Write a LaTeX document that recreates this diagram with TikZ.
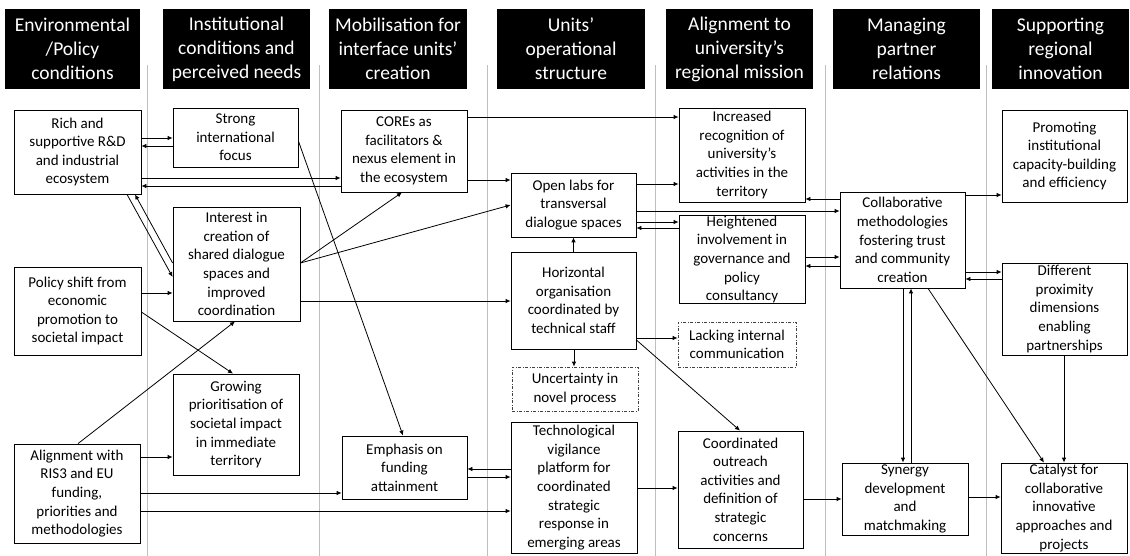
\documentclass[tikz,border=0pt]{standalone}
\usepackage{fontspec}
\setmainfont{Carlito}
\usetikzlibrary{arrows.meta}
\begin{document}
\begin{tikzpicture}[x=1pt,y=-1pt,
  head/.style={fill=black, text=white, align=center, inner sep=0pt,
    minimum height=80pt, font=\fontsize{19.5}{24}\selectfont},
  box/.style={draw, line width=0.8pt, align=center, inner sep=0pt,
    font=\fontsize{15}{18.6}\selectfont},
  weak/.style={box, draw=black!75, line width=0.7pt,
    dash pattern=on 3pt off 1.5pt on 1pt off 1.5pt},
  sep/.style={draw=black!25, line width=0.8pt},
  arr/.style={draw, line width=0.8pt, -{Latex[length=5pt,width=4.5pt]}}]

\useasboundingbox (0,0) rectangle (1130,556);

% column separators
\foreach \sx in {147,319,487,655,825,986}
  \draw[sep] (\sx,65) -- (\sx,556);

% column headings
\node[head, minimum width=135pt] (h1) at (72.5,49) {Environmental\\/Policy\\conditions};
\node[head, minimum width=147pt] (h2) at (236.5,49) {Institutional\\conditions and\\perceived needs};
\node[head, minimum width=138pt] (h3) at (398,49) {Mobilisation for\\interface units’\\creation};
\node[head, minimum width=148pt] (h4) at (571,49) {Units’\\operational\\structure};
\node[head, minimum width=147pt] (h5) at (739.5,49) {Alignment to\\university’s\\regional mission};
\node[head, minimum width=147pt] (h6) at (906.5,49) {Managing\\partner\\relations};
\node[head, minimum width=137pt] (h7) at (1060.5,49) {Supporting\\regional\\innovation};

% column 1
\node[box, minimum width=127pt, minimum height=84pt] (rich) at (77.5,152) {Rich and\\supportive R\&D\\and industrial\\ecosystem};
\node[box, minimum width=127pt, minimum height=88pt] (policy) at (77.5,311) {Policy shift from\\economic\\promotion to\\societal impact};
\node[box, minimum width=126pt, minimum height=99pt] (alignment) at (77,493.5) {Alignment with\\RIS3 and EU\\funding,\\priorities and\\methodologies};

% column 2
\node[box, minimum width=125pt, minimum height=59pt] (strong) at (235.5,137.5) {Strong\\international\\focus};
\node[box, minimum width=127pt, minimum height=114pt] (interest) at (236.5,264) {Interest in\\creation of\\shared dialogue\\spaces and\\improved\\coordination};
\node[box, minimum width=126pt, minimum height=101pt] (growing) at (236,424.5) {Growing\\prioritisation of\\societal impact\\in immediate\\territory};

% column 3
\node[box, minimum width=126pt, minimum height=82pt] (cores) at (404,151) {COREs as\\facilitators \&\\nexus element in\\the ecosystem};
\node[box, minimum width=125pt, minimum height=63pt] (emphasis) at (404.5,467.5) {Emphasis on\\funding\\attainment};

% column 4
\node[box, minimum width=125pt, minimum height=64pt] (open) at (573.5,205) {Open labs for\\transversal\\dialogue spaces};
\node[box, minimum width=125pt, minimum height=97pt] (horizontal) at (573.5,300.5) {Horizontal\\organisation\\coordinated by\\technical staff};
\node[weak, minimum width=126pt, minimum height=44pt] (uncertainty) at (575,389) {Uncertainty in\\novel process};
\node[box, minimum width=126pt, minimum height=131pt] (tech) at (574,487.5) {Technological\\vigilance\\platform for\\coordinated\\strategic\\response in\\emerging areas};

% column 5
\node[box, minimum width=126pt, minimum height=94pt] (increased) at (742,155) {Increased\\recognition of\\university’s\\activities in the\\territory};
\node[box, minimum width=126pt, minimum height=83pt] (heightened) at (742,259.5) {Heightened\\involvement in\\governance and\\policy\\consultancy};
\node[weak, minimum width=118pt, minimum height=45pt] (lacking) at (737,344.5) {Lacking internal\\communication};
\node[box, minimum width=125pt, minimum height=117pt] (coordinated) at (740.5,489.5) {Coordinated\\outreach\\activities and\\definition of\\strategic\\concerns};

% column 6
\node[box, minimum width=125pt, minimum height=96pt] (collab) at (902.5,240) {Collaborative\\methodologies\\fostering trust\\and community\\creation};
\node[box, minimum width=126pt, minimum height=72pt] (synergy) at (905,499) {Synergy\\development\\and\\matchmaking};

% column 7
\node[box, minimum width=125pt, minimum height=92pt] (promoting) at (1064.5,156) {Promoting\\institutional\\capacity-building\\and efficiency};
\node[box, minimum width=125pt, minimum height=92pt] (different) at (1064.5,309) {Different\\proximity\\dimensions\\enabling\\partnerships};
\node[box, minimum width=126pt, minimum height=90pt] (catalyst) at (1064,508) {Catalyst for\\collaborative\\innovative\\approaches and\\projects};

% connectors from the first column
\draw[arr] (rich.east |- 0,138) -- (strong.west |- 0,138);
\draw[arr] (strong.west |- 0,146) -- (rich.east |- 0,146);
\draw[arr] (rich.east |- 0,178) -- (cores.west |- 0,178);
\draw[arr] (cores.west |- 0,186) -- (rich.east |- 0,186);
\draw[arr] (rich.south -| 127,0) -- (interest.west |- 0,277);
\draw[arr] (interest.west |- 0,263) -- (rich.south -| 135,0);
\draw[arr] (policy.east |- 0,293) -- (interest.west |- 0,293);
\draw[arr] (policy.east |- 0,312) -- (growing.north -| 233,0);
\draw[arr] (alignment.north -| 78,0) -- (interest.south -| 235,0);
\draw[arr] (alignment.east |- 0,457) -- (growing.west |- 0,457);
\draw[arr] (alignment.east |- 0,493) -- (emphasis.west |- 0,493);
\draw[arr] (alignment.east |- 0,511) -- (tech.west |- 0,511);

% connectors from the second column
\draw[arr] (strong.east |- 0,141) -- (emphasis.north -| 403,0);
\draw[arr] (interest.east |- 0,263) -- (cores.south -| 402,0);
\draw[arr] (interest.east |- 0,263) -- (open.west |- 0,205);
\draw[arr] (interest.east |- 0,301) -- (horizontal.west |- 0,301);

% connectors from the third column
\draw[arr] (cores.east |- 0,117) -- (increased.west |- 0,117);
\draw[arr] (cores.east |- 0,180) -- (open.west |- 0,180);

% operational structure
\draw[arr] (horizontal.north) -- (open.south);
\draw[arr] (horizontal.south -| 574,0) -- (uncertainty.north -| 574,0);
\draw[arr] (horizontal.east |- 0,338) -- (lacking.west |- 0,338);
\draw[arr] (horizontal.east |- 0,340) -- (coordinated.north -| 740,0);
\draw[arr] (open.east |- 0,184) -- (increased.west |- 0,184);
\draw[arr] (open.east |- 0,211) -- (collab.west |- 0,211);
\draw[arr] (open.east |- 0,222) -- (heightened.west |- 0,222);
\draw[arr] (heightened.west |- 0,228) -- (open.east |- 0,228);
\draw[arr] (tech.west |- 0,469) -- (emphasis.east |- 0,469);
\draw[arr] (emphasis.east |- 0,477) -- (tech.west |- 0,477);
\draw[arr] (tech.east |- 0,488) -- (coordinated.west |- 0,488);

% regional mission and partner relations
\draw[arr] (coordinated.east |- 0,499) -- (synergy.west |- 0,499);
\draw[arr] (collab.west |- 0,199) -- (increased.east |- 0,199);
\draw[arr] (heightened.east |- 0,257) -- (collab.west |- 0,257);
\draw[arr] (collab.west |- 0,266) -- (heightened.east |- 0,266);
\draw[arr] (collab.east |- 0,195) -- (promoting.west |- 0,195);
\draw[arr] (collab.east |- 0,272) -- (different.west |- 0,272);
\draw[arr] (different.west |- 0,279) -- (collab.east |- 0,279);
\draw[arr] (collab.south -| 903,0) -- (synergy.north -| 903,0);
\draw[arr] (synergy.north -| 911,0) -- (collab.south -| 911,0);
\draw[arr] (collab.south -| 928,0) -- (catalyst.north -| 1044,0);
\draw[arr] (synergy.east |- 0,497) -- (catalyst.west |- 0,497);
\draw[arr] (different.south -| 1064,0) -- (catalyst.north -| 1064,0);

\end{tikzpicture}
\end{document}
